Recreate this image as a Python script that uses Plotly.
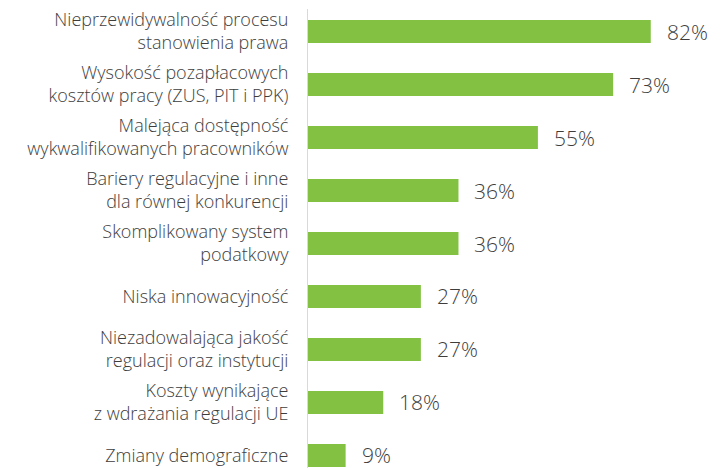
import plotly.graph_objects as go

categories = [
    "Nieprzewidywalność procesu<br>stanowienia prawa",
    "Wysokość pozapłacowych<br>kosztów pracy (ZUS, PIT i PPK)",
    "Malejąca dostępność<br>wykwalifikowanych pracowników",
    "Bariery regulacyjne i inne<br>dla równej konkurencji",
    "Skomplikowany system<br>podatkowy",
    "Niska innowacyjność",
    "Niezadowalająca jakość<br>regulacji oraz instytucji",
    "Koszty wynikające<br>z wdrażania regulacji UE",
    "Zmiany demograficzne",
]
values = [82, 73, 55, 36, 36, 27, 27, 18, 9]
value_labels = [f"{v}%" for v in values]

positions = list(range(len(categories)))
GREEN = "#82c141"
TEXT = "#3d3d3d"
FONT = "Open Sans"

fig = go.Figure(go.Bar(
    x=values, y=positions, orientation="h",
    marker=dict(color=GREEN, line=dict(width=0)),
    width=0.434,
    hoverinfo="skip",
))

for p, v, t in zip(positions, values, value_labels):
    fig.add_annotation(x=v, y=p, text=t, showarrow=False, xanchor="left",
                       xshift=14, font=dict(family=FONT, size=21, color=TEXT, weight=300))

# page body has an 8px default margin, so the figure is sized to the visible area
fig.update_layout(
    width=717, height=460,
    margin=dict(l=300, r=0, t=1, b=0, autoexpand=False),
    paper_bgcolor="white", plot_bgcolor="white",
    showlegend=False,
    font=dict(family=FONT, color=TEXT),
    xaxis=dict(range=[0, 99.76], visible=False, fixedrange=True, automargin=False),
    yaxis=dict(
        range=[8.236, -0.4245],
        tickvals=positions, ticktext=categories,
        tickfont=dict(family=FONT, size=18, color=TEXT, weight=300),
        ticks="outside", ticklen=15, tickcolor="rgba(0,0,0,0)",
        ticklabeloverflow="allow",
        showline=True, linecolor="#d9d9d9", linewidth=1,
        showgrid=False, zeroline=False, fixedrange=True, automargin=False,
    ),
)

fig.write_html("out.html")
